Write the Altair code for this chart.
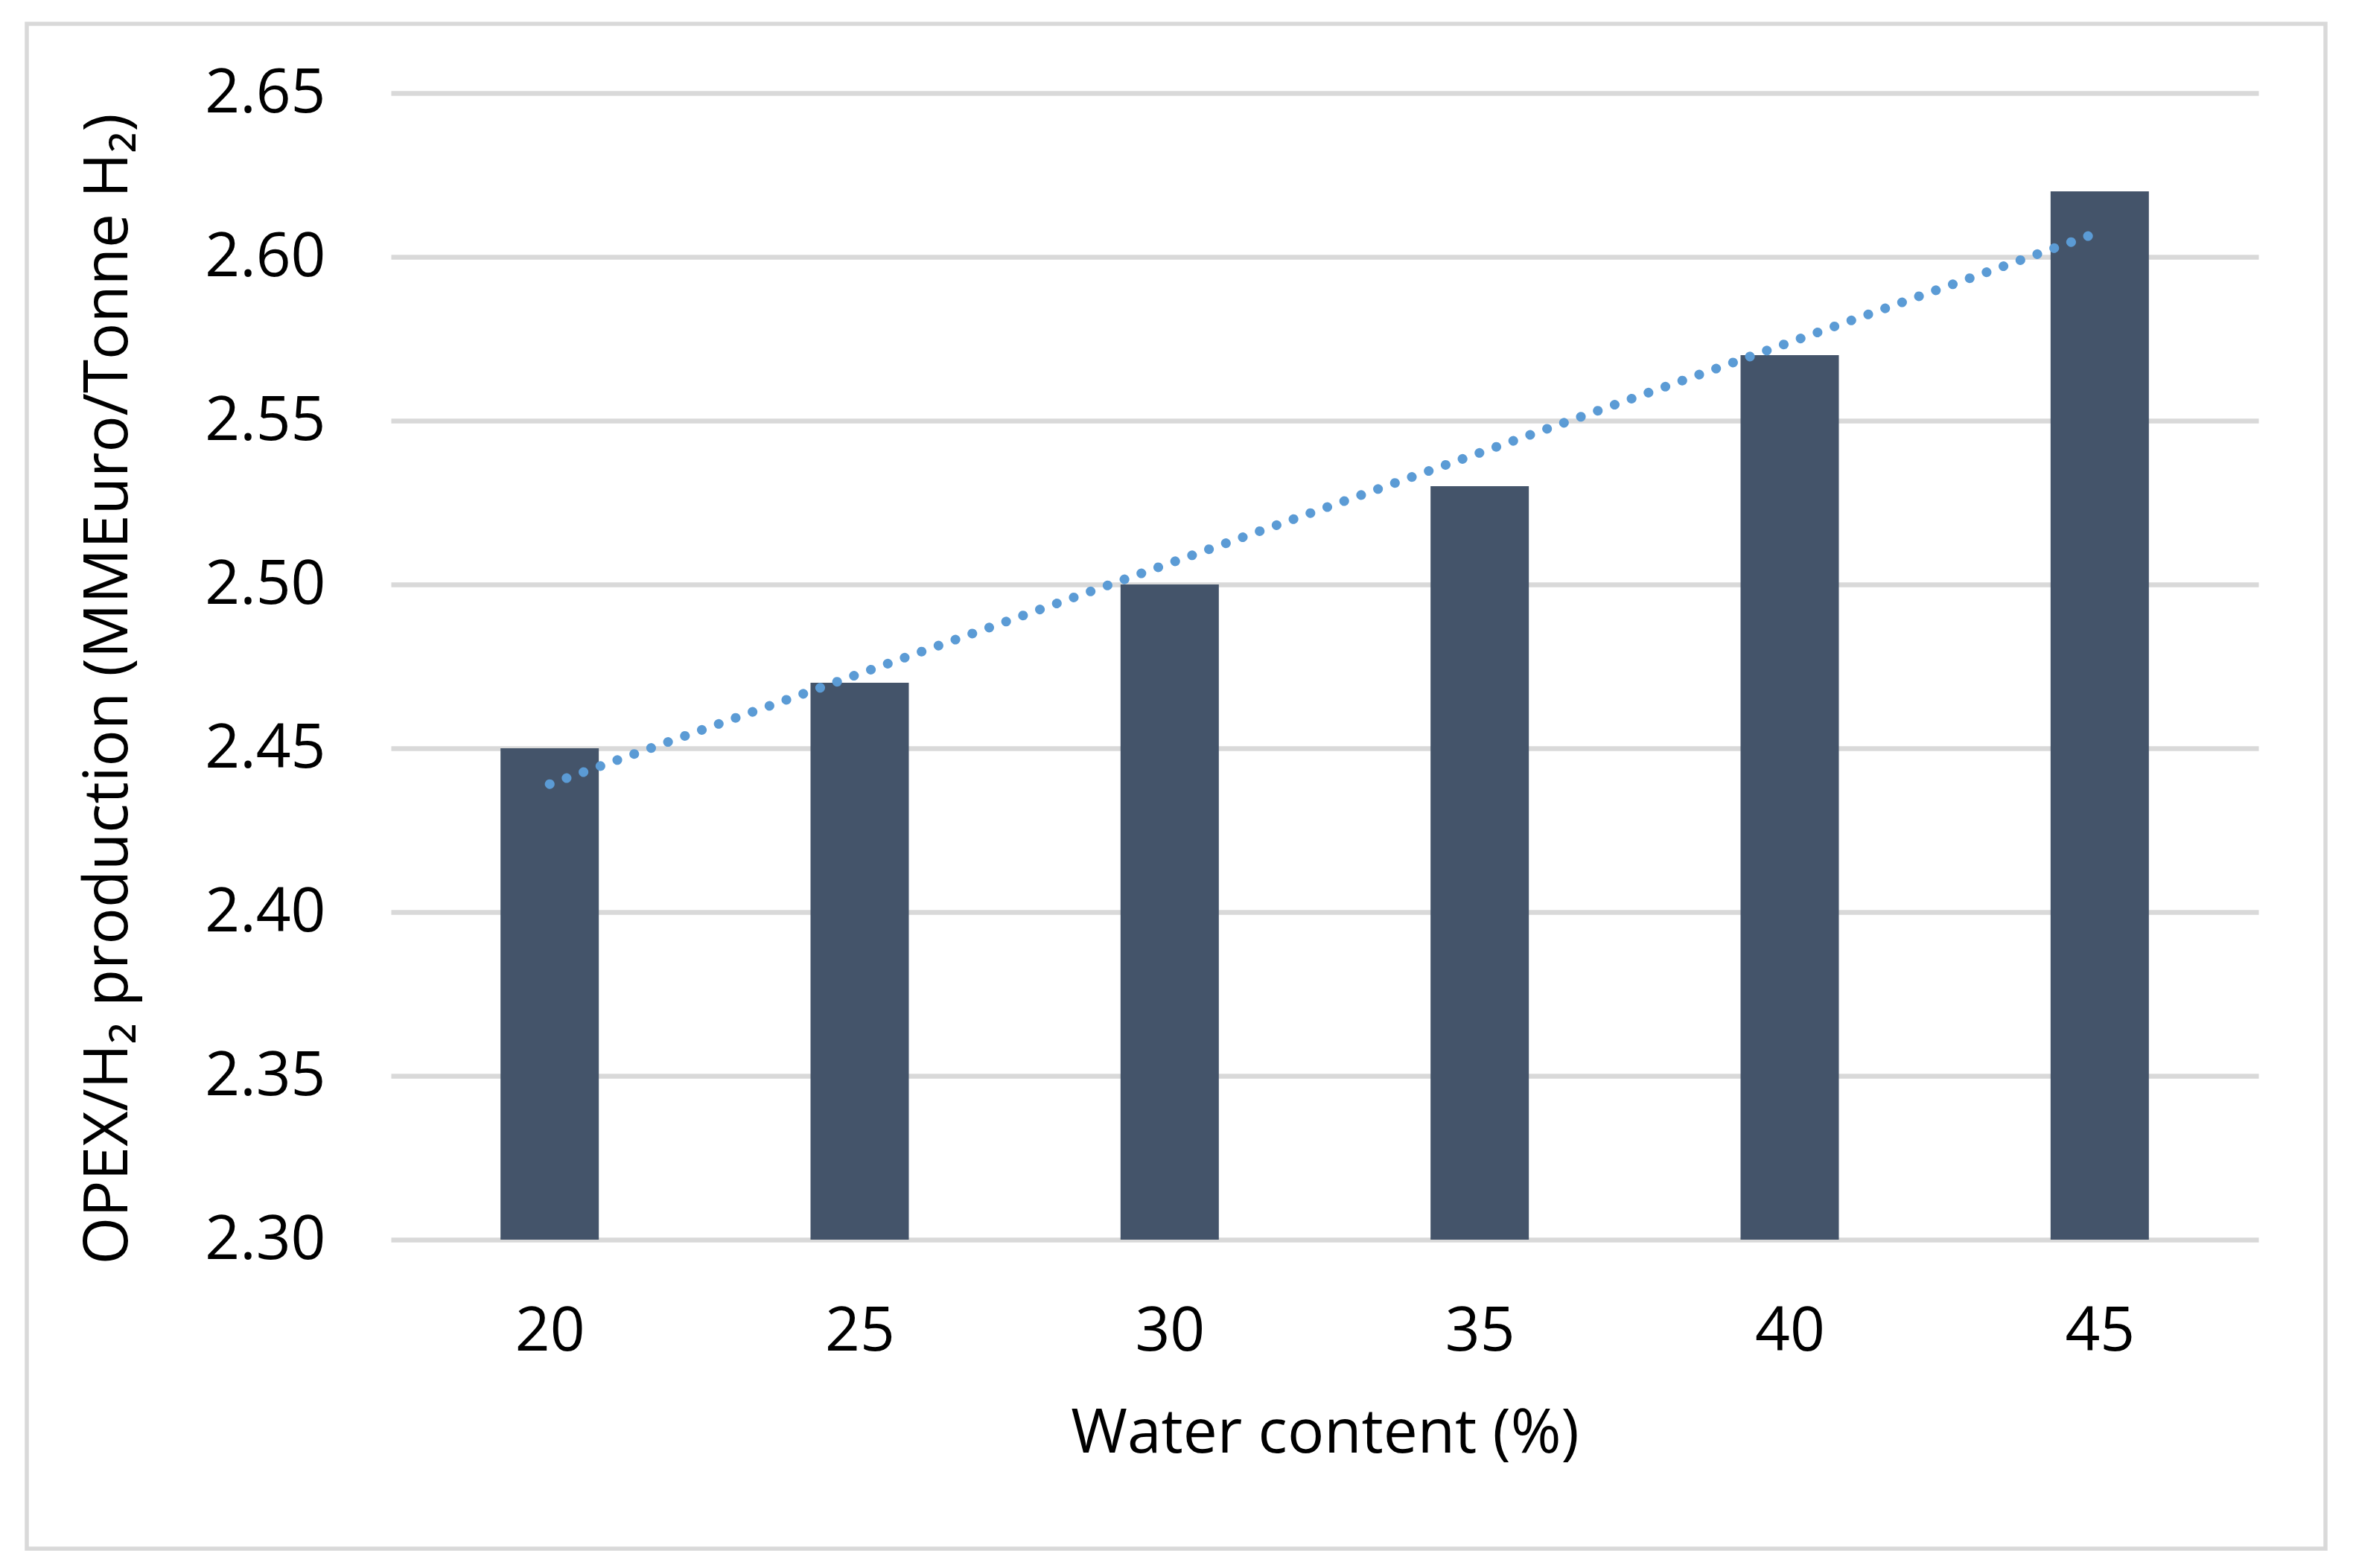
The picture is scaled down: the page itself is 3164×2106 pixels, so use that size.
import altair as alt
import pandas as pd

water_content = [20, 25, 30, 35, 40, 45]
opex_per_h2 = [2.45, 2.47, 2.50, 2.53, 2.57, 2.62]
y_ticks = [2.30, 2.35, 2.40, 2.45, 2.50, 2.55, 2.60, 2.65]
y_min, y_max = 2.30, 2.65
x_min, x_max = 17.5, 47.5

df = pd.DataFrame({"water": water_content, "opex": opex_per_h2})

FONT = "Open Sans"
W, H = 2508, 1540

x_enc = alt.X(
    "water:Q",
    scale=alt.Scale(domain=[x_min, x_max], nice=False, zero=False),
    axis=alt.Axis(
        values=water_content, format="d", grid=False, domain=False, ticks=False,
        labelFont=FONT, labelFontSize=82, labelColor="#000000",
        labelBaseline="alphabetic", labelPadding=148,
        title="Water content (%)", titleFont=FONT, titleFontSize=82,
        titleFontWeight="normal", titleColor="#000000",
        titleBaseline="alphabetic", titleY=285, titleX=W / 2,
    ),
)
y_enc = alt.Y(
    "opex:Q",
    scale=alt.Scale(domain=[y_min, y_max], nice=False, zero=False),
    axis=alt.Axis(
        values=y_ticks, format=".2f", grid=True, gridColor="#d9d9d9", gridWidth=6.5,
        domain=False, ticks=False,
        labelFont=FONT, labelFontSize=82, labelColor="#000000", labelPadding=88,
        title="OPEX/H₂ production (MMEuro/Tonne H₂)", titleFont=FONT,
        titleFontSize=82, titleFontWeight="normal", titleColor="#000000",
        titleBaseline="alphabetic", titleX=-355, titleY=800, titleAngle=270,
    ),
)

base = alt.Chart(df)

bars = base.mark_bar(size=132, color="#44546a").encode(
    x=x_enc, y=y_enc, y2=alt.datum(y_min)
)

trend = base.transform_regression("water", "opex").mark_line(
    color="#5b9bd5", strokeWidth=13, strokeDash=[0.1, 24], strokeCap="round"
).encode(x="water:Q", y="opex:Q")

border = alt.Chart(pd.DataFrame({"a": [0]})).mark_rect(
    fillOpacity=0, stroke="#d9d9d9", strokeWidth=5.5
).encode(
    x=alt.value(-489), x2=alt.value(2598), y=alt.value(-93), y2=alt.value(1955)
)

chart = alt.layer(border, bars, trend).properties(
    width=W, height=H,
    autosize=alt.AutoSizeParams(type="none"),
    padding={"left": 517, "top": 117, "right": 123, "bottom": 433},
    background="white",
).configure_view(stroke=None)

chart.save("out.html", embed_options={"renderer": "svg", "actions": False})
